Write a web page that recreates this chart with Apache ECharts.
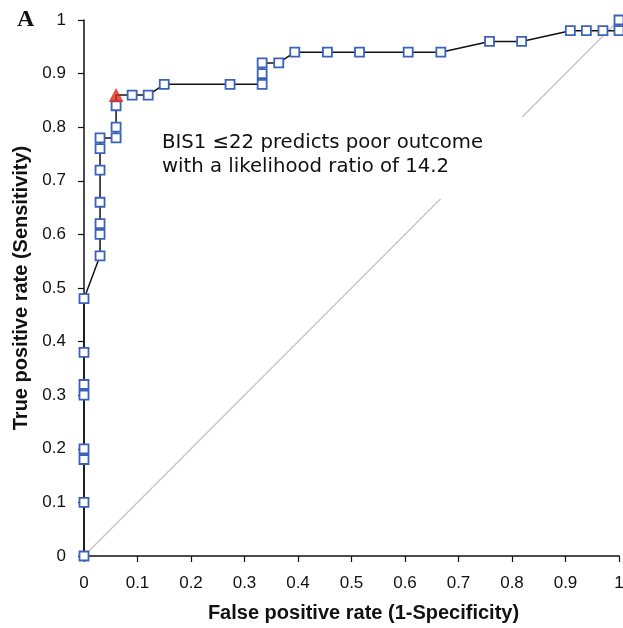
<!DOCTYPE html>
<html>
<head>
<meta charset="utf-8">
<script src="https://cdn.jsdelivr.net/npm/echarts@6/dist/echarts.min.js"></script>
<style>
  html, body { margin: 0; padding: 0; background: #fff; }
  #main { width: 623px; height: 628px; }
</style>
</head>
<body>
<div id="main"></div>
<script>
  // ROC points
  var fpr = [0, 0, 0, 0, 0, 0, 0, 0,
    0.03, 0.03, 0.03, 0.03, 0.03, 0.03, 0.03,
    0.06, 0.06, 0.06, 0.06,
    0.09, 0.12, 0.15, 0.273, 0.333, 0.333, 0.333, 0.364, 0.394,
    0.455, 0.515, 0.606, 0.667, 0.758, 0.818, 0.909, 0.939, 0.97, 1, 1];
  var tpr = [0, 0.1, 0.18, 0.2, 0.3, 0.32, 0.38, 0.48,
    0.56, 0.6, 0.62, 0.66, 0.72, 0.76, 0.78,
    0.78, 0.8, 0.84, 0.86,
    0.86, 0.86, 0.88, 0.88, 0.88, 0.9, 0.92, 0.92, 0.94,
    0.94, 0.94, 0.94, 0.94, 0.96, 0.96, 0.98, 0.98, 0.98, 0.98, 1];
  // cut-off marked with the red triangle
  var cutoff = [0.06, 0.86];
  var diagonal = [[0, 0], [1, 1]];
  var ticks = [0, 0.1, 0.2, 0.3, 0.4, 0.5, 0.6, 0.7, 0.8, 0.9, 1];
  var noteLines = ['BIS1 \u226422 predicts poor outcome', 'with a likelihood ratio of 14.2'];

  var rocData = [];
  fpr.forEach(function (x, i) {
    if (x === cutoff[0] && tpr[i] === cutoff[1]) {
      // the triangle takes the place of the square here
      rocData.push({ value: [x, tpr[i]], symbol: 'none' });
    } else {
      rocData.push([x, tpr[i]]);
    }
  });

  var tickFont = { fontFamily: 'Liberation Sans', fontSize: 17, color: '#111' };

  function axisCommon(name, gap, margin, namePad) {
    return {
      type: 'value',
      min: 0,
      max: 1,
      interval: 0.1,
      name: name,
      nameLocation: 'middle',
      nameGap: gap,
      nameTextStyle: { fontFamily: 'Liberation Sans', fontSize: 20, fontWeight: 'bold', color: '#111', padding: namePad },
      axisLine: { show: true, lineStyle: { color: '#111', width: 1.5 } },
      axisTick: { show: true, inside: false, length: 6, lineStyle: { color: '#111', width: 1.2 } },
      axisLabel: Object.assign({
        margin: margin,
        formatter: function (v) {
          var t = ticks.filter(function (k) { return Math.abs(k - v) < 1e-6; });
          return t.length ? String(t[0]) : '';
        }
      }, tickFont),
      splitLine: { show: false }
    };
  }

  var myChart = echarts.init(document.getElementById('main'));
  var option = {
    animation: false,
    backgroundColor: '#fff',
    grid: { left: 84, right: 4, top: 20, bottom: 72, outerBoundsMode: 'none', containLabel: false },
    xAxis: axisCommon('False positive rate (1-Specificity)', 47, 19, [0, 0, 0, 24]),
    yAxis: axisCommon('True positive rate (Sensitivity)', 53, 18, [0, 0, 0, 0]),
    graphic: [
      {
        type: 'text',
        left: 17,
        top: 8,
        style: { text: 'A', font: 'bold 24px "Liberation Serif", "Times New Roman", serif', fill: '#111' }
      },
      {
        type: 'rect',
        shape: { x: 150, y: 117, width: 374, height: 82 },
        style: { fill: '#fff' },
        z: 50
      },
      {
        type: 'text',
        x: 162,
        y: 131,
        z: 51,
        style: {
          text: noteLines.join('\n'),
          font: '19.7px "DejaVu Sans", Verdana, sans-serif',
          lineHeight: 24,
          fill: '#111'
        }
      }
    ],
    series: [
      {
        type: 'line',
        data: diagonal,
        symbol: 'none',
        lineStyle: { color: '#c4c4c4', width: 1.3 },
        z: 1
      },
      {
        type: 'line',
        data: rocData,
        symbol: 'rect',
        symbolSize: 9,
        lineStyle: { color: '#111', width: 1.5 },
        itemStyle: { color: '#fff', borderColor: '#3b62b9', borderWidth: 1.8 },
        z: 60
      },
      {
        type: 'scatter',
        data: [cutoff],
        symbol: 'triangle',
        symbolSize: [15, 14],
        itemStyle: { color: '#dc2a1e' },
        z: 70
      }
    ]
  };
  myChart.setOption(option);
</script>
</body>
</html>
